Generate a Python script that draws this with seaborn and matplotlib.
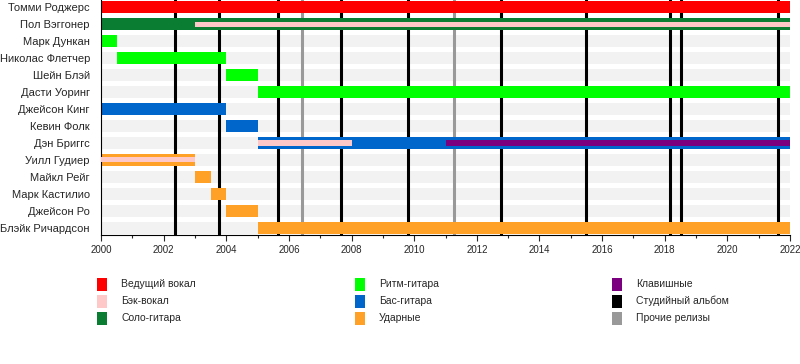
import matplotlib
matplotlib.use("Agg")
import matplotlib.pyplot as plt
from matplotlib.patches import Rectangle
import seaborn as sns
import pandas as pd

members = ["Томми Роджерс", "Пол Вэггонер", "Марк Дункан", "Николас Флетчер",
           "Шейн Блэй", "Дасти Уоринг", "Джейсон Кинг", "Кевин Фолк",
           "Дэн Бриггс", "Уилл Гудиер", "Майкл Рейг", "Марк Кастилио",
           "Джейсон Ро", "Блэйк Ричардсон"]

# main role spans: (member, role, start, end)
main_member = ["Томми Роджерс", "Пол Вэггонер", "Марк Дункан", "Николас Флетчер",
               "Шейн Блэй", "Дасти Уоринг", "Джейсон Кинг", "Кевин Фолк",
               "Дэн Бриггс", "Уилл Гудиер", "Майкл Рейг", "Марк Кастилио",
               "Джейсон Ро", "Блэйк Ричардсон"]
main_role = ["vocal", "lead", "rhythm", "rhythm", "rhythm", "rhythm", "bass", "bass",
             "bass", "drums", "drums", "drums", "drums", "drums"]
main_start = [2000, 2000, 2000, 2000.5, 2004, 2005, 2000, 2004, 2005, 2000, 2003, 2003.5, 2004, 2005]
main_end = [2022, 2022, 2000.5, 2004, 2005, 2022, 2004, 2005, 2022, 2003, 2003.5, 2004, 2005, 2022]

# secondary role spans (thin stripes)
sec_member = ["Пол Вэггонер", "Дэн Бриггс", "Дэн Бриггс", "Уилл Гудиер"]
sec_role = ["backing", "backing", "keys", "backing"]
sec_start = [2003, 2005, 2011, 2000]
sec_end = [2022, 2008, 2022, 2003]

studio_albums = [2002.35, 2003.78, 2005.65, 2007.67, 2009.8, 2012.78, 2015.5, 2018.18, 2018.53, 2021.63]
other_releases = [2006.42, 2011.26]

role_colors = {"vocal": "#ff0000", "backing": "#ffc8c8", "lead": "#0a7d32",
               "rhythm": "#00ff00", "bass": "#0066cc", "drums": "#ffa126",
               "keys": "#7a0080"}
legend_labels = [("Ведущий вокал", "vocal"), ("Бэк-вокал", "backing"), ("Соло-гитара", "lead"),
                 ("Ритм-гитара", "rhythm"), ("Бас-гитара", "bass"), ("Ударные", "drums"),
                 ("Клавишные", "keys"), ("Студийный альбом", None), ("Прочие релизы", None)]
legend_extra = {"Студийный альбом": "#000000", "Прочие релизы": "#999999"}

sns.set_theme(style="white")
plt.rcParams["font.family"] = ["Liberation Sans", "DejaVu Sans"]

fig = plt.figure(figsize=(8, 3.64), dpi=100)
ax = fig.add_axes([101 / 800, 1 - 235 / 364, 689 / 800, 235 / 364])

ypos = {m: i for i, m in enumerate(members)}
H = 0.7
bg = pd.DataFrame({"member": members, "width": [22] * len(members)})
ax.barh([ypos[m] for m in bg["member"]], bg["width"], left=2000, height=H,
        color="#f2f2f2", linewidth=0, zorder=0)

for x in studio_albums:
    ax.axvline(x, color="black", lw=2.2, zorder=1)
for x in other_releases:
    ax.axvline(x, color="#999999", lw=2.2, zorder=1)

main_df = pd.DataFrame({"member": main_member, "role": main_role,
                        "start": main_start, "end": main_end})
for _, r in main_df.iterrows():
    ax.barh(ypos[r["member"]], r["end"] - r["start"], left=r["start"], height=H,
            color=role_colors[r["role"]], linewidth=0, zorder=2)
sec_df = pd.DataFrame({"member": sec_member, "role": sec_role,
                       "start": sec_start, "end": sec_end})
for _, r in sec_df.iterrows():
    ax.barh(ypos[r["member"]], r["end"] - r["start"], left=r["start"], height=0.3,
            color=role_colors[r["role"]], linewidth=0, zorder=3)

ax.set_xlim(2000, 2022)
ax.set_ylim(13.42, -0.42)
ax.set_yticks(range(len(members)))
ax.set_yticklabels(members, fontsize=8)
ax.set_xticks(range(2000, 2023, 2))
ax.set_xticklabels([str(y) for y in range(2000, 2023, 2)], fontsize=7)
ax.set_xticks(range(2001, 2022, 2), minor=True)
ax.tick_params(axis="y", length=0, pad=8)
ax.tick_params(axis="x", which="major", length=4, width=0.8, direction="out", bottom=True, pad=3)
ax.tick_params(axis="x", which="minor", length=2.5, width=0.8, direction="out", bottom=True)
for s in ["top", "right"]:
    ax.spines[s].set_visible(False)
for s in ["left", "bottom"]:
    ax.spines[s].set_color("black")
    ax.spines[s].set_linewidth(0.8)
ax.grid(False)

col_x = [97, 355, 612]
row_y = [284, 301, 318]
for i, (lab, role) in enumerate(legend_labels):
    c = role_colors[role] if role else legend_extra[lab]
    cx = col_x[i // 3]
    cy = row_y[i % 3]
    fig.add_artist(Rectangle((cx / 800, 1 - (cy + 6.5) / 364), 10 / 800, 13 / 364,
                             transform=fig.transFigure, color=c, linewidth=0))
    fig.text((cx + 24) / 800, 1 - cy / 364, lab, fontsize=7.5, va="center", ha="left")

fig.savefig("out.png", dpi=100)
